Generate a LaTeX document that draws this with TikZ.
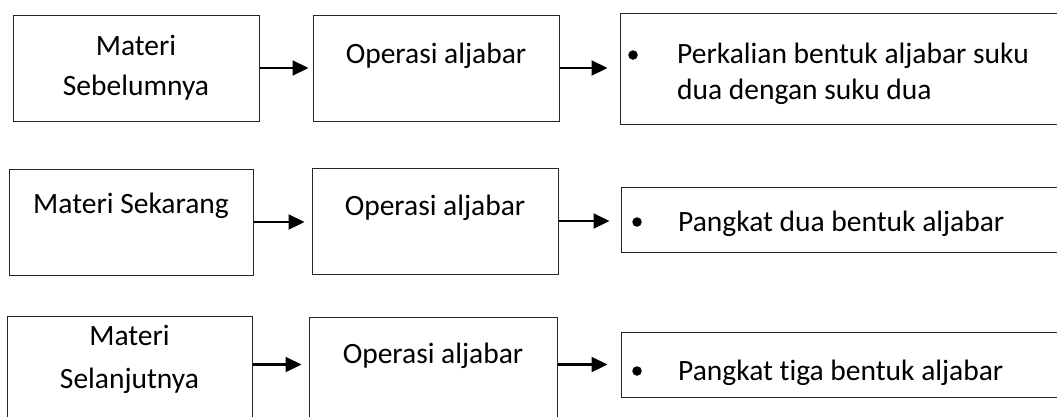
\documentclass[tikz,border=0pt]{standalone}
\usepackage{fontspec}
\setmainfont{Carlito}[RawFeature=-liga]
\usetikzlibrary{arrows.meta}
\begin{document}
\begin{tikzpicture}[x=1pt,y=-1pt,
  box/.style={draw=black!85, line width=1pt, rectangle, inner sep=0pt},
  lbl/.style={anchor=base, inner sep=0pt, font=\fontsize{29.5}{35}\selectfont},
  lbll/.style={anchor=base west, inner sep=0pt, font=\fontsize{29.5}{35}\selectfont},
  bul/.style={circle, fill=black, inner sep=0pt, minimum size=9.5pt},
  arr/.style={line width=2.2pt, -{Triangle[length=16pt,width=15pt]}}]
\useasboundingbox (0,0) rectangle (1057,416);
\clip (0,0) rectangle (1057,416);
% row 1
\node[box, minimum width=246pt, minimum height=106pt] (A) at (136,68) {};
\node[box, minimum width=246pt, minimum height=106pt] (B) at (436,68) {};
\node[box, minimum width=460pt, minimum height=111pt] (C) at (850,68.5) {};
\node[lbl] (a1) at (136,55) {Materi};
\node[lbl] (a2) at (136,95) {Sebelumnya};
\node[lbl] (b1) at (436,63) {Operasi aljabar};
\node[bul] (cb) at (633,55) {};
\node[lbll] (c1) at (677,63) {Perkalian bentuk aljabar suku};
\node[lbll] (c2) at (677,99) {dua dengan suku dua};
\draw[arr, shorten >=4pt] (A.east) -- (B.west);
\draw[arr, shorten >=12pt] (B.east) -- (B.east -| C.west);
% row 2
\node[box, minimum width=244pt, minimum height=106pt] (D) at (131,222) {};
\node[box, minimum width=246pt, minimum height=106pt] (E) at (435,221) {};
\node[box, minimum width=459pt, minimum height=65pt] (F) at (850.5,219.5) {};
\node[lbl] (d1) at (131,213) {Materi Sekarang};
\node[lbl] (e1) at (435,215) {Operasi aljabar};
\node[bul] (fb) at (637,222) {};
\node[lbll] (f1) at (678,231) {Pangkat dua bentuk aljabar};
\draw[arr, shorten >=7pt] (D.east) -- (D.east -| E.west);
\draw[arr, shorten >=11pt] (E.east) -- (E.east -| F.west);
% row 3
\node[box, minimum width=245pt, minimum height=106pt] (G) at (129.5,369) {};
\node[box, minimum width=248pt, minimum height=106pt] (H) at (433,370) {};
\node[box, minimum width=459pt, minimum height=65pt] (I) at (850.5,364.5) {};
\node[lbl] (g1) at (129.5,345) {Materi};
\node[lbl] (g2) at (129.5,388) {Selanjutnya};
\node[lbl] (h1) at (433,363) {Operasi aljabar};
\node[bul] (ib) at (637,371) {};
\node[lbll] (i1) at (678,380) {Pangkat tiga bentuk aljabar};
\draw[arr, shorten >=7pt] (I.west -| G.east) -- (I.west -| H.west);
\draw[arr, shorten >=13pt] (I.west -| H.east) -- (I.west);
\end{tikzpicture}
\end{document}
